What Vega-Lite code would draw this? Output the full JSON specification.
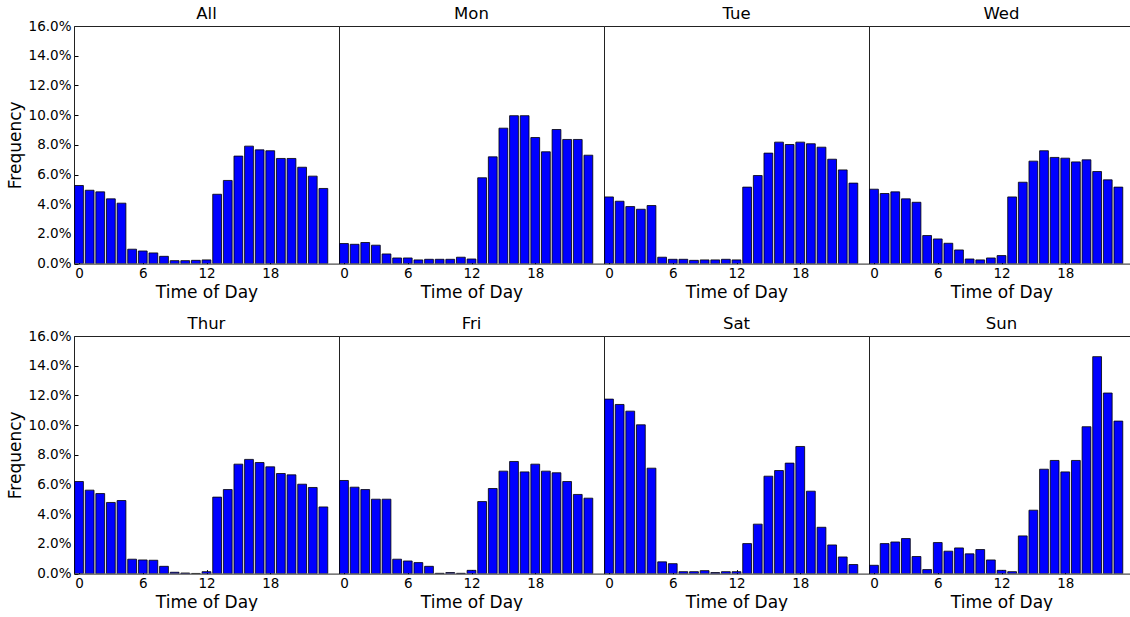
{
  "$schema": "https://vega.github.io/schema/vega-lite/v6.json",
  "padding": {"left": 6, "top": 5, "right": 0, "bottom": 0},
  "bounds": "flush",
  "spacing": {"row": 72, "column": 0},
  "columns": 4,
  "data": {"values": [
    {"hour": 0, "All": 0.0526, "Mon": 0.0135, "Tue": 0.0449, "Wed": 0.0501, "Thur": 0.0620, "Fri": 0.0627, "Sat": 0.1175, "Sun": 0.0056},
    {"hour": 1, "All": 0.0494, "Mon": 0.0130, "Tue": 0.0420, "Wed": 0.0472, "Thur": 0.0562, "Fri": 0.0582, "Sat": 0.1139, "Sun": 0.0202},
    {"hour": 2, "All": 0.0483, "Mon": 0.0142, "Tue": 0.0384, "Wed": 0.0483, "Thur": 0.0539, "Fri": 0.0566, "Sat": 0.1094, "Sun": 0.0213},
    {"hour": 3, "All": 0.0436, "Mon": 0.0124, "Tue": 0.0366, "Wed": 0.0436, "Thur": 0.0479, "Fri": 0.0501, "Sat": 0.1002, "Sun": 0.0236},
    {"hour": 4, "All": 0.0407, "Mon": 0.0065, "Tue": 0.0391, "Wed": 0.0413, "Thur": 0.0492, "Fri": 0.0501, "Sat": 0.0710, "Sun": 0.0115},
    {"hour": 5, "All": 0.0097, "Mon": 0.0038, "Tue": 0.0043, "Wed": 0.0189, "Thur": 0.0097, "Fri": 0.0097, "Sat": 0.0079, "Sun": 0.0027},
    {"hour": 6, "All": 0.0085, "Mon": 0.0038, "Tue": 0.0029, "Wed": 0.0166, "Thur": 0.0092, "Fri": 0.0085, "Sat": 0.0067, "Sun": 0.0209},
    {"hour": 7, "All": 0.0072, "Mon": 0.0025, "Tue": 0.0029, "Wed": 0.0137, "Thur": 0.0090, "Fri": 0.0074, "Sat": 0.0013, "Sun": 0.0151},
    {"hour": 8, "All": 0.0049, "Mon": 0.0029, "Tue": 0.0022, "Wed": 0.0092, "Thur": 0.0049, "Fri": 0.0049, "Sat": 0.0013, "Sun": 0.0173},
    {"hour": 9, "All": 0.0020, "Mon": 0.0029, "Tue": 0.0025, "Wed": 0.0031, "Thur": 0.0009, "Fri": 0.0002, "Sat": 0.0020, "Sun": 0.0133},
    {"hour": 10, "All": 0.0020, "Mon": 0.0029, "Tue": 0.0025, "Wed": 0.0025, "Thur": 0.0004, "Fri": 0.0007, "Sat": 0.0007, "Sun": 0.0162},
    {"hour": 11, "All": 0.0022, "Mon": 0.0043, "Tue": 0.0029, "Wed": 0.0038, "Thur": 0.0001, "Fri": 0.0002, "Sat": 0.0013, "Sun": 0.0092},
    {"hour": 12, "All": 0.0025, "Mon": 0.0031, "Tue": 0.0025, "Wed": 0.0054, "Thur": 0.0013, "Fri": 0.0022, "Sat": 0.0013, "Sun": 0.0022},
    {"hour": 13, "All": 0.0467, "Mon": 0.0578, "Tue": 0.0515, "Wed": 0.0449, "Thur": 0.0515, "Fri": 0.0485, "Sat": 0.0202, "Sun": 0.0013},
    {"hour": 14, "All": 0.0560, "Mon": 0.0719, "Tue": 0.0593, "Wed": 0.0548, "Thur": 0.0566, "Fri": 0.0573, "Sat": 0.0333, "Sun": 0.0254},
    {"hour": 15, "All": 0.0724, "Mon": 0.0912, "Tue": 0.0744, "Wed": 0.0690, "Thur": 0.0737, "Fri": 0.0690, "Sat": 0.0656, "Sun": 0.0427},
    {"hour": 16, "All": 0.0791, "Mon": 0.0996, "Tue": 0.0818, "Wed": 0.0760, "Thur": 0.0769, "Fri": 0.0755, "Sat": 0.0694, "Sun": 0.0703},
    {"hour": 17, "All": 0.0766, "Mon": 0.0996, "Tue": 0.0802, "Wed": 0.0715, "Thur": 0.0748, "Fri": 0.0685, "Sat": 0.0744, "Sun": 0.0762},
    {"hour": 18, "All": 0.0760, "Mon": 0.0849, "Tue": 0.0818, "Wed": 0.0710, "Thur": 0.0719, "Fri": 0.0737, "Sat": 0.0856, "Sun": 0.0685},
    {"hour": 19, "All": 0.0708, "Mon": 0.0753, "Tue": 0.0807, "Wed": 0.0685, "Thur": 0.0674, "Fri": 0.0690, "Sat": 0.0555, "Sun": 0.0762},
    {"hour": 20, "All": 0.0708, "Mon": 0.0903, "Tue": 0.0784, "Wed": 0.0699, "Thur": 0.0665, "Fri": 0.0679, "Sat": 0.0312, "Sun": 0.0989},
    {"hour": 21, "All": 0.0649, "Mon": 0.0836, "Tue": 0.0703, "Wed": 0.0620, "Thur": 0.0602, "Fri": 0.0620, "Sat": 0.0193, "Sun": 0.1461},
    {"hour": 22, "All": 0.0589, "Mon": 0.0836, "Tue": 0.0631, "Wed": 0.0564, "Thur": 0.0580, "Fri": 0.0533, "Sat": 0.0112, "Sun": 0.1216},
    {"hour": 23, "All": 0.0506, "Mon": 0.0730, "Tue": 0.0542, "Wed": 0.0515, "Thur": 0.0449, "Fri": 0.0508, "Sat": 0.0061, "Sun": 0.1027}
  ]},
  "transform": [
    {"fold": ["All", "Mon", "Tue", "Wed", "Thur", "Fri", "Sat", "Sun"], "as": ["day", "freq"]}
  ],
  "facet": {
    "field": "day",
    "type": "nominal",
    "sort": ["All", "Mon", "Tue", "Wed", "Thur", "Fri", "Sat", "Sun"],
    "title": null,
    "header": {"labelFontSize": 16.5, "labelColor": "#000", "labelPadding": 4, "labelFont": "DejaVu Sans"}
  },
  "spec": {
    "width": 265,
    "height": 237.6,
    "mark": {"type": "bar", "orient": "vertical", "size": 8.8, "clip": true, "fill": "#0000ff", "stroke": "#000", "strokeWidth": 0.8},
    "encoding": {
      "x": {
        "field": "hour",
        "type": "quantitative",
        "scale": {"domain": [0, 24], "nice": false, "zero": false},
        "axis": {"values": [0, 6, 12, 18], "format": "d", "title": "Time of Day"}
      },
      "y": {
        "field": "freq",
        "type": "quantitative",
        "scale": {"domain": [0, 0.16], "nice": false},
        "axis": {"values": [0, 0.02, 0.04, 0.06, 0.08, 0.1, 0.12, 0.14, 0.16], "format": ".1%", "title": "Frequency"}
      }
    }
  },
  "resolve": {"axis": {"x": "independent"}},
  "config": {
    "font": "DejaVu Sans",
    "background": "white",
    "view": {"stroke": "#222", "strokeWidth": 1},
    "axis": {
      "domain": false,
      "grid": false,
      "ticks": true,
      "tickSize": -4,
      "tickColor": "#000",
      "tickWidth": 1,
      "labelFlush": false,
      "labelOverlap": false,
      "labelFont": "DejaVu Sans",
      "labelFontSize": 13.5,
      "labelColor": "#000",
      "labelPadding": 7,
      "titleFont": "DejaVu Sans",
      "titleFontSize": 17,
      "titleFontWeight": "normal",
      "titleColor": "#000"
    },
    "axisX": {"titlePadding": 4},
    "axisY": {"titlePadding": 4}
  }
}
